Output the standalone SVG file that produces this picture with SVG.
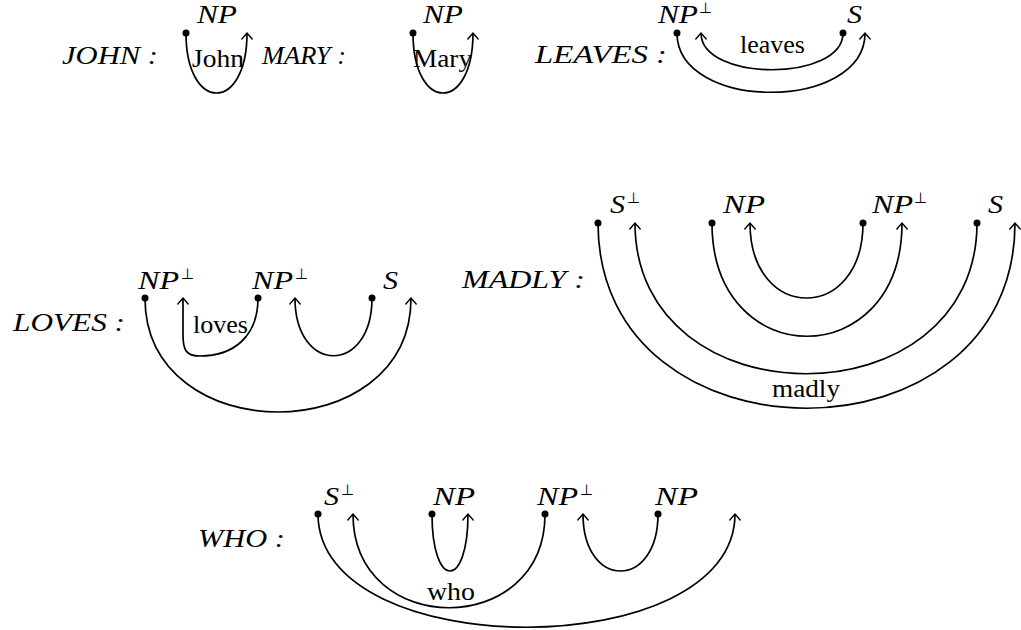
<svg xmlns="http://www.w3.org/2000/svg" width="1021" height="630" viewBox="0 0 1021 630">
<defs>
<style>
.m{font-style:italic;font-size:25px}
.r{font-size:25px}
.p{font-size:15px}
.c path{fill:none;stroke:#000;stroke-width:1.7;marker-start:url(#dot);marker-end:url(#arr)}
</style>
<marker id="dot" markerUnits="userSpaceOnUse" markerWidth="10" markerHeight="10" refX="5" refY="5" viewBox="0 0 10 10" overflow="visible">
<circle cx="5" cy="5" r="3.5" fill="#000"/>
</marker>
<marker id="arr" markerUnits="userSpaceOnUse" markerWidth="12" markerHeight="12" refX="0" refY="0" viewBox="-6 -6 12 12" orient="auto" overflow="visible">
<path d="M -6 -5.2 Q -1.5 -1.3 0 0 Q -1.5 1.3 -6 5.2" fill="none" stroke="#000" stroke-width="1.4" stroke-linecap="round"/>
</marker>
</defs>
<g id="john" font-family="Liberation Serif, serif" fill="#000">
<text class="m" x="62" y="64" textLength="96" lengthAdjust="spacingAndGlyphs">JOHN :</text>
<text class="m" x="197" y="23" textLength="40" lengthAdjust="spacingAndGlyphs">NP</text>
<text class="r" x="192" y="67" textLength="52" lengthAdjust="spacingAndGlyphs">John</text>
</g>
<g id="mary" font-family="Liberation Serif, serif" fill="#000">
<text class="m" x="262" y="64" textLength="84" lengthAdjust="spacingAndGlyphs">MARY :</text>
<text class="m" x="423" y="23" textLength="40" lengthAdjust="spacingAndGlyphs">NP</text>
<text class="r" x="413" y="67" textLength="59" lengthAdjust="spacingAndGlyphs">Mary</text>
</g>
<g id="leaves" font-family="Liberation Serif, serif" fill="#000">
<text class="m" x="535" y="63" textLength="132" lengthAdjust="spacingAndGlyphs">LEAVES :</text>
<text class="m" x="658" y="23" textLength="40" lengthAdjust="spacingAndGlyphs">NP</text>
<text class="p" x="699" y="13">⊥</text>
<text class="m" x="847" y="23" textLength="15" lengthAdjust="spacingAndGlyphs">S</text>
<text class="r" x="740" y="53" textLength="65" lengthAdjust="spacingAndGlyphs">leaves</text>
</g>
<g id="loves" font-family="Liberation Serif, serif" fill="#000">
<text class="m" x="13" y="331" textLength="112" lengthAdjust="spacingAndGlyphs">LOVES :</text>
<text class="m" x="138" y="289" textLength="41" lengthAdjust="spacingAndGlyphs">NP</text>
<text class="p" x="181" y="279">⊥</text>
<text class="m" x="252" y="289" textLength="41" lengthAdjust="spacingAndGlyphs">NP</text>
<text class="p" x="295" y="279">⊥</text>
<text class="m" x="383" y="289" textLength="15" lengthAdjust="spacingAndGlyphs">S</text>
<text class="r" x="193" y="333" textLength="55" lengthAdjust="spacingAndGlyphs">loves</text>
</g>
<g id="madly" font-family="Liberation Serif, serif" fill="#000">
<text class="m" x="462" y="288" textLength="123" lengthAdjust="spacingAndGlyphs">MADLY :</text>
<text class="m" x="610" y="213" textLength="15" lengthAdjust="spacingAndGlyphs">S</text>
<text class="p" x="627" y="203">⊥</text>
<text class="m" x="723" y="213" textLength="42" lengthAdjust="spacingAndGlyphs">NP</text>
<text class="m" x="872" y="213" textLength="41" lengthAdjust="spacingAndGlyphs">NP</text>
<text class="p" x="914" y="203">⊥</text>
<text class="m" x="988" y="213" textLength="15" lengthAdjust="spacingAndGlyphs">S</text>
<text class="r" x="772" y="397" textLength="68" lengthAdjust="spacingAndGlyphs">madly</text>
</g>
<g id="who" font-family="Liberation Serif, serif" fill="#000">
<text class="m" x="198" y="547" textLength="87" lengthAdjust="spacingAndGlyphs">WHO :</text>
<text class="m" x="324" y="505" textLength="15" lengthAdjust="spacingAndGlyphs">S</text>
<text class="p" x="341" y="495">⊥</text>
<text class="m" x="433" y="505" textLength="42" lengthAdjust="spacingAndGlyphs">NP</text>
<text class="m" x="537" y="505" textLength="41" lengthAdjust="spacingAndGlyphs">NP</text>
<text class="p" x="580" y="495">⊥</text>
<text class="m" x="655" y="505" textLength="43" lengthAdjust="spacingAndGlyphs">NP</text>
<text class="r" x="427" y="600" textLength="48" lengthAdjust="spacingAndGlyphs">who</text>
</g>
<g id="connectors" class="c">
<path d="M 186 33 C 186 113, 247 113, 247 33"/>
<path d="M 413 33 C 413 113, 473 113, 473 33"/>
<path d="M 843 33 C 843 82, 701 82, 701 33"/>
<path d="M 677 33 C 677 112, 865 112, 865 33"/>
<path d="M 258 298 C 258 338, 232 356, 200 356 C 186 356, 183 350, 183 335 L 183 298"/>
<path d="M 372 298 C 372 375, 295 375, 295 298"/>
<path d="M 145 298 C 145 450, 411 450, 411 298"/>
<path d="M 863 223 C 863 323, 750 323, 750 223"/>
<path d="M 712 223 C 712 374, 902 374, 902 223"/>
<path d="M 977 223 C 977 424, 635 424, 635 223"/>
<path d="M 598 223 C 598 470, 1015 470, 1015 223"/>
<path d="M 432 514 C 432 590, 468 590, 468 514"/>
<path d="M 658 514 C 658 590, 583 590, 583 514"/>
<path d="M 545 514 C 545 639, 353 639, 353 514"/>
<path d="M 318 514 C 318 665, 735 665, 735 514"/>
</g>
</svg>
